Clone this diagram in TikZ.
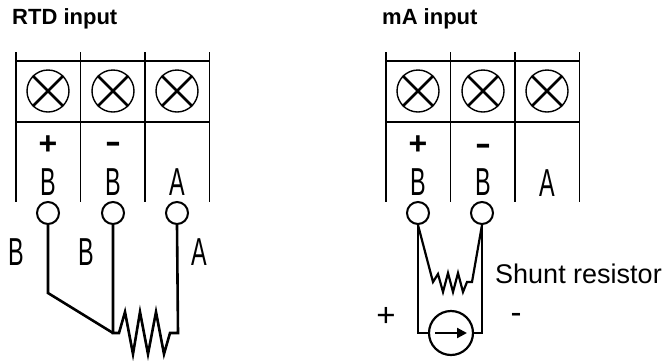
\documentclass[tikz,border=0pt]{standalone}
\usepackage{fontspec}
\setmainfont{Liberation Sans}
\newfontfamily\condfont[FakeStretch=0.6]{Liberation Sans}
\usetikzlibrary{arrows.meta}
\begin{document}
\begin{tikzpicture}[x=1pt,y=-1pt,
  frame/.style={line width=1.6pt},
  screw/.style={circle,draw,line width=1.4pt,minimum size=42pt,inner sep=0pt},
  xmark/.style={line width=2.8pt},
  term/.style={circle,draw,line width=2pt,minimum size=22pt,inner sep=0pt},
  wire/.style={line width=2.6pt,line join=miter},
  wiretwo/.style={line width=2.2pt,line join=miter},
  title/.style={anchor=base west,inner sep=0pt,font=\bfseries\fontsize{22}{26}\selectfont},
  cond/.style={anchor=base,inner sep=0pt,font=\condfont\fontsize{39}{39}\selectfont},
  sign/.style={inner sep=0pt,font=\bfseries\fontsize{32}{32}\selectfont},
  note/.style={inner sep=0pt,font=\fontsize{27}{30}\selectfont},
  bignote/.style={inner sep=0pt,font=\fontsize{33}{33}\selectfont}]
\useasboundingbox (0,0) rectangle (664,360);

% titles
\node[title] (rtd) at (12,24) {RTD input};
\node[title] (ma) at (382,24) {mA input};

% terminal block frames
\foreach \ox in {16,386}{
  \foreach \dx in {0,64.5,129,193.5}
    \draw[frame] (\ox+\dx,52) -- (\ox+\dx,202);
  \draw[frame] (\ox,61) -- (\ox+193.5,61);
  \draw[frame] (\ox,122) -- (\ox+193.5,122);
}

% screws
\foreach \n/\x in {s1/48,s2/113,s3/177,v1/418,v2/483,v3/547}{
  \node[screw] (\n) at (\x,91) {};
  \draw[xmark] (\n.45) -- (\n.225);
  \draw[xmark] (\n.135) -- (\n.315);
}

% signs in blocks
\node[sign] (p1) at (48,145) {+};
\node[sign] (m1) at (113,147) {\scalebox{1.5}[1]{-}};
\node[sign] (p2) at (418,145) {+};
\node[sign] (m2) at (483,149) {\scalebox{1.5}[1]{-}};

% letters in blocks
\node[cond] (lb1) at (48,195) {B};
\node[cond] (lb2) at (113,195) {B};
\node[cond] (la3) at (177,195) {A};
\node[cond] (rb1) at (418,195) {B};
\node[cond] (rb2) at (483,195) {B};
\node[cond] (ra3) at (547,196) {A};

% terminals
\node[term] (t1) at (48,213) {};
\node[term] (t2) at (113,213) {};
\node[term] (t3) at (177,213) {};
\node[term] (u1) at (418,213) {};
\node[term] (u2) at (482,213) {};

% RTD wiring
\node[cond] (wb1) at (16,265) {B};
\node[cond] (wb2) at (86,265) {B};
\node[cond] (wa3) at (199,265) {A};
\coordinate (bendL) at (48,293);
\coordinate (rL) at (113,333);
\coordinate (rR) at (178,333);
\draw[wire] (t1.south) -- (bendL) -- (rL);
\draw[wire] (t2.south) -- (rL) -- (119,333) -- (125,312) -- (133,354) -- (140,312)
  -- (148,354) -- (156,312) -- (164,354) -- (170,333) -- (rR) -- (t3.south);

% mA wiring
\node[circle,draw,line width=2.2pt,minimum size=44pt,inner sep=0pt] (cs) at (451,333) {};
\draw[wiretwo,-{Triangle[length=10pt,width=10pt]}] ([xshift=-16pt]cs.center) -- ([xshift=16pt]cs.center);
\coordinate (sL) at (433,282);
\coordinate (sR) at (472,282);
\draw[wiretwo] (u1.south) -- (sL) -- (438,274) -- (443,292) -- (448,273) -- (453,292)
  -- (458,273) -- (463,292) -- (467,282) -- (sR) -- (u2.south);
\draw[wiretwo] (u1.south) -- (u1.south |- cs) -- (cs.west);
\draw[wiretwo] (u2.south) -- (u2.south |- cs) -- (cs.east);
\node[note,anchor=west] (shunt) at (495,274) {Shunt resistor};
\node[bignote] (plus) at (386,317) {+};
\node[bignote] (minus) at (516,318) {-};
\end{tikzpicture}
\end{document}
